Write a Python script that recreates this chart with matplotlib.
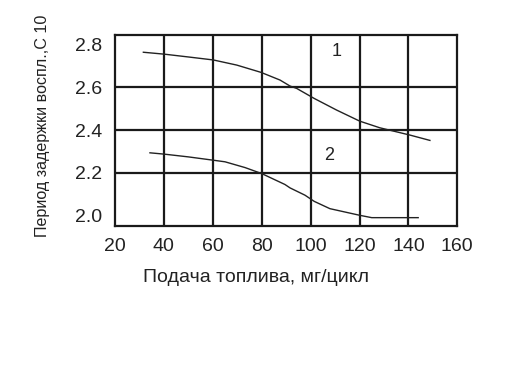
import matplotlib
matplotlib.use("Agg")
import matplotlib.pyplot as plt

# Data
x1 = [31.6, 40.2, 50.7, 60.2, 69.8, 79.7, 87.5, 91.6, 94.3, 101.5, 110.6, 120.1, 128.3, 140.6, 148.8]
y1 = [2.764, 2.755, 2.741, 2.728, 2.704, 2.670, 2.634, 2.606, 2.595, 2.548, 2.494, 2.442, 2.411, 2.377, 2.352]
x2 = [34.3, 40.0, 50.0, 60.5, 65.0, 73.2, 80.0, 89.5, 91.6, 97.7, 101.5, 107.9, 120.1, 125.0, 144.0]
y2 = [2.294, 2.288, 2.275, 2.259, 2.252, 2.225, 2.197, 2.146, 2.130, 2.096, 2.067, 2.033, 2.002, 1.991, 1.991]
xticks = [20, 40, 60, 80, 100, 120, 140, 160]
yticks = [2.0, 2.2, 2.4, 2.6, 2.8]
ygrid = [2.2, 2.4, 2.6]
xgrid = [40, 60, 80, 100, 120, 140]
curve_labels = [("1", 110.7, 2.767), ("2", 107.5, 2.283)]

plt.rcParams['font.family'] = ['Liberation Sans', 'DejaVu Sans']

W, H = 528, 371
fig = plt.figure(figsize=(W / 100, H / 100), dpi=100)
ax = fig.add_axes([115 / W, 1 - 226 / H, (457.3 - 115) / W, (226 - 34.7) / H])

ax.set_xlim(20, 160)
ax.set_ylim(1.952, 2.846)

for gx in xgrid:
    ax.axvline(gx, color='#1a1a1a', lw=1.6, zorder=1)
for gy in ygrid:
    ax.axhline(gy, color='#1a1a1a', lw=1.6, zorder=1)

ax.plot(x1, y1, color='#222222', lw=1.0, zorder=2)
ax.plot(x2, y2, color='#222222', lw=1.0, zorder=2)

for t, lx, ly in curve_labels:
    ax.text(lx, ly, t, fontsize=13, ha='center', va='center', color='#222222')

ax.set_xticks(xticks)
ax.set_yticks(yticks)
ax.set_xticklabels([str(v) for v in xticks])
ax.set_yticklabels([f"{v:.1f}" for v in yticks])
ax.tick_params(length=0, labelsize=14, colors='#222222', pad=9)
for s in ax.spines.values():
    s.set_linewidth(1.6)
    s.set_color('#1a1a1a')

fig.text(256 / W, 1 - 278 / H, "Подача топлива, мг/цикл", fontsize=14,
         ha='center', va='center', color='#222222')
fig.text(43 / W, 1 - 126 / H, "Период задержки воспл.,С 10", fontsize=11.6,
         ha='center', va='center', rotation=90, color='#222222')

fig.savefig("out.png", dpi=100)
